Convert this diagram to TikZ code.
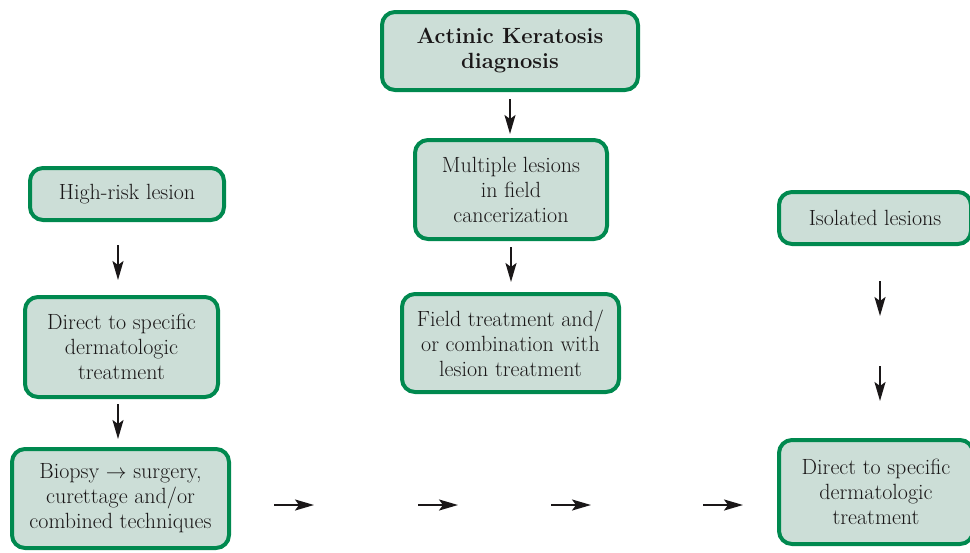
\documentclass[tikz,border=0pt]{standalone}
\usepackage{fontspec}
\usepackage{tikz}
\usetikzlibrary{arrows.meta}

\definecolor{akgreen}{HTML}{00894F}
\definecolor{akfill}{HTML}{CCDED7}
\definecolor{aktext}{HTML}{1A1718}

\begin{document}
\begin{tikzpicture}[x=1pt,y=-1pt,
  box/.style={draw=akgreen,fill=akfill,line width=4pt,rounded corners=13pt,
    align=center,inner sep=0pt,text=aktext,font=\fontsize{22}{25}\selectfont},
  arr/.style={draw=aktext,line width=2pt,-{Stealth[length=19pt,width=11pt,inset=4pt]}}]
  \useasboundingbox (0,0) rectangle (970,552);
  % boxes
  \node[box,minimum width=256,minimum height=78,font=\bfseries\fontsize{22}{25}\selectfont] (diag) at (510,51) {Actinic Keratosis\\diagnosis};
  \node[box,minimum width=192,minimum height=99] (multi) at (511,189.5) {Multiple lesions\\in field\\cancerization};
  \node[box,minimum width=217,minimum height=98] (field) at (510.5,343) {Field treatment and/\\or combination with\\lesion treatment};
  \node[box,minimum width=194,minimum height=52] (highrisk) at (127,194) {High-risk lesion};
  \node[box,minimum width=193,minimum height=100] (directL) at (121.5,347) {Direct to specific\\dermatologic\\treatment};
  \node[box,minimum width=217,minimum height=99] (biopsy) at (120.5,498.5) {Biopsy $\rightarrow$ surgery,\\curettage and/or\\combined techniques};
  \node[box,minimum width=192,minimum height=52] (isol) at (875,218) {Isolated lesions};
  \node[box,minimum width=194,minimum height=104] (directR) at (876,492) {Direct to specific\\dermatologic\\treatment};
  % vertical arrows
  \foreach \a/\x/\y in {c1/510/99,c2/511/247,l1/118/245,l2/118/404,r1/880/281,r2/880/366}{
    \coordinate (\a s) at (\x,\y);
    \coordinate (\a e) at (\x,\y+35);
    \draw[arr] (\a s) -- (\a e);}
  % horizontal arrows
  \foreach \a/\x in {h1/274,h2/418,h3/551,h4/703}{
    \coordinate (\a s) at (\x,505);
    \coordinate (\a e) at (\x+40,505);
    \draw[arr] (\a s) -- (\a e);}
\end{tikzpicture}
\end{document}
